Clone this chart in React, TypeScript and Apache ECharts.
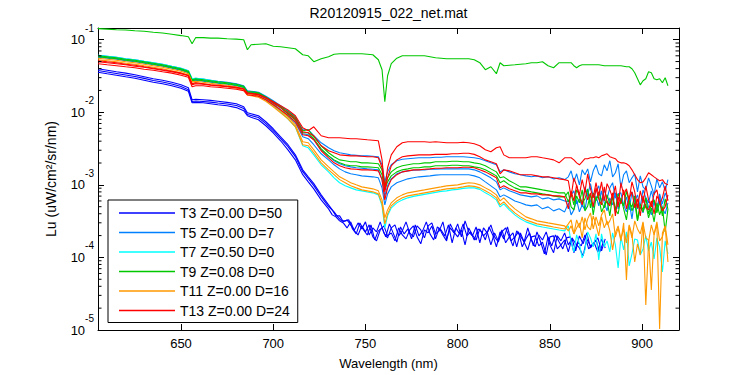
import { useEffect, useRef } from 'react';
import * as echarts from 'echarts';

const FONT = '"Liberation Sans", Arial, Helvetica, sans-serif';

const titleText = 'R20120915_022_net.mat';
const xAxisTitle = 'Wavelength (nm)';
const yAxisTitle = 'Lu (uW/cm\u00B2/sr/nm)';

// wavelength grids (nm)
const smoothWl = [605, 610, 615, 620, 625, 630, 635, 640, 645, 650, 654, 656, 658, 662, 666, 670, 675, 680, 684, 686, 688, 692, 696, 700, 704, 708, 712, 716, 719, 722, 726, 730];
const midWl = [733, 736, 739, 742, 745, 748, 751, 754, 757, 759, 760.5, 762, 764, 767, 770, 773, 776, 779, 782, 785, 788, 791, 794, 797, 800, 803, 806, 809, 812, 815, 818, 821, 823, 825, 828, 831, 834, 837, 840, 843, 846, 849, 852, 855, 858];
const noiseWl = [860, 861.5, 863, 864.5, 866, 867.5, 869, 870.5, 872, 873.5, 875, 876.5, 878, 879.5, 881, 882.5, 884, 885.5, 887, 888.5, 890, 891.5, 893, 894.5, 896, 897.5, 899, 900.5, 902, 903.5, 905, 906.5, 908, 909.5, 911, 912.5, 914];
const t3NoiseWl = [732, 734, 736, 738, 740, 742, 744, 746, 748, 750, 752, 754, 756, 758, 760, 762, 764, 766, 768, 770, 772, 774, 776, 778, 780, 782, 784, 786, 788, 790, 792, 794, 796, 798, 800, 802, 804, 806, 808, 810, 812, 814, 816, 818, 820, 822, 824, 826, 828, 830, 832, 834, 836, 838, 840, 842, 844, 846, 848, 850, 852, 854, 856, 858, 860, 862, 864, 866, 868, 870, 872, 874, 876, 878, 880];
const t3NoiseWlOdd = [733, 735, 737, 739, 741, 743, 745, 747, 749, 751, 753, 755, 757, 759, 761, 763, 765, 767, 769, 771, 773, 775, 777, 779, 781, 783, 785, 787, 789, 791, 793, 795, 797, 799, 801, 803, 805, 807, 809, 811, 813, 815, 817, 819, 821, 823, 825, 827, 829, 831, 833, 835, 837, 839, 841, 843, 845, 847, 849, 851, 853, 855, 857, 859, 861, 863, 865, 867, 869, 871, 873, 875, 877, 879];

const wavelengths = [...smoothWl, ...midWl, ...noiseWl];
const t3Wavelengths = [...smoothWl, ...t3NoiseWl];
const t3WavelengthsOdd = [...smoothWl, ...t3NoiseWlOdd];

// T3 (Lu, uW/cm^2/sr/nm)
const t3Line1 = [
  0.0398, 0.0380, 0.0362, 0.0346, 0.0329, 0.0309, 0.0290, 0.0277, 0.0259, 0.0239, 0.0218, 0.0149, 0.0151, 0.0149, 0.0146, 0.0142, 0.0137, 0.0131, 0.0119, 0.00984, 0.00953, 0.00895, 0.00740, 0.00593, 0.00460, 0.00357, 0.00259, 0.00161, 0.00129, 0.00104, 0.000728, 0.000530,
  0.000452, 0.000374, 0.000374, 0.000309, 0.000329, 0.000281, 0.000239, 0.000299, 0.000247, 0.000309,
  0.000204, 0.000255, 0.000225, 0.000309, 0.000218, 0.000186, 0.000255, 0.000281, 0.000198, 0.000232,
  0.000309, 0.000218, 0.000192, 0.000272, 0.000239, 0.000186, 0.000272, 0.000299, 0.000211, 0.000232,
  0.000309, 0.000180, 0.000255, 0.000218, 0.000290, 0.000192, 0.000319, 0.000225, 0.000198, 0.000263,
  0.000159, 0.000255, 0.000218, 0.000281, 0.000192, 0.000163, 0.000225, 0.000255, 0.000192, 0.000144,
  0.000232, 0.000198, 0.000163, 0.000255, 0.000174, 0.000140, 0.000204, 0.000174, 0.000225, 0.000149,
  0.000116, 0.000198, 0.000169, 0.000218, 0.000149, 0.000180, 0.000123, 0.000198, 0.000154, 0.000218,
  0.000135, 0.000159, 0.000186, 0.000123, 0.000180,
];
const t3Line2 = [
  0.0357, 0.0340, 0.0324, 0.0309, 0.0295, 0.0277, 0.0259, 0.0247, 0.0232, 0.0214, 0.0195, 0.0135, 0.0137, 0.0135, 0.0131, 0.0127, 0.0123, 0.0116, 0.0105, 0.00895, 0.00853, 0.00788, 0.00652, 0.00522, 0.00405, 0.00304, 0.00221, 0.00138, 0.00110, 0.000881, 0.000621, 0.000467,
  0.000386, 0.000362, 0.000319, 0.000299, 0.000255, 0.000309, 0.000232, 0.000204, 0.000272, 0.000225,
  0.000281, 0.000192, 0.000169, 0.000239, 0.000272, 0.000198, 0.000218, 0.000169, 0.000255, 0.000204,
  0.000180, 0.000239, 0.000272, 0.000192, 0.000154, 0.000239, 0.000218, 0.000272, 0.000180, 0.000255,
  0.000204, 0.000169, 0.000290, 0.000225, 0.000192, 0.000239, 0.000149, 0.000255, 0.000204, 0.000174,
  0.000247, 0.000198, 0.000225, 0.000149, 0.000218, 0.000169, 0.000239, 0.000159, 0.000192, 0.000218,
  0.000140, 0.000218, 0.000163, 0.000127, 0.000192, 0.000198, 0.000144, 0.000163, 0.000108, 0.000192,
  0.000198, 0.000131, 0.000149, 0.000174, 0.000119, 0.000186, 0.000154, 0.000135, 0.000105, 0.000180,
  0.000144, 0.000159, 0.000119, 0.000180, 0.000135,
];
const t3Line3 = [
  0.0376, 0.0359, 0.0342, 0.0326, 0.0311, 0.0293, 0.0274, 0.0261, 0.0245, 0.0226, 0.0205, 0.0141, 0.0143, 0.0141, 0.0138, 0.0134, 0.0130, 0.0124, 0.0113, 0.00930, 0.00901, 0.00845, 0.00699, 0.00560, 0.00435, 0.00337, 0.00245, 0.00152, 0.00122, 0.000975, 0.000687, 0.000500,
  0.000424, 0.000362, 0.000319, 0.000319, 0.000329, 0.000247, 0.000211, 0.000299, 0.000239, 0.000204,
  0.000281, 0.000174, 0.000232, 0.000255, 0.000192, 0.000290, 0.000218, 0.000163, 0.000263, 0.000211,
  0.000247, 0.000180, 0.000281, 0.000198, 0.000232, 0.000309, 0.000211, 0.000174, 0.000263, 0.000239,
  0.000198, 0.000281, 0.000159, 0.000255, 0.000211, 0.000290, 0.000198, 0.000225, 0.000174, 0.000247,
  0.000225, 0.000174, 0.000263, 0.000204, 0.000140, 0.000225, 0.000180, 0.000263, 0.000169, 0.000192,
  0.000225, 0.000140, 0.000180, 0.000218, 0.000144, 0.000225, 0.000163, 0.000112, 0.000192, 0.000144,
  0.000204, 0.000163, 0.000131, 0.000186, 0.000192, 0.000116, 0.000163, 0.000144, 0.000204, 0.000131,
  0.000149, 0.000174, 0.000119, 0.000163,
];

// all other casts on `wavelengths`
const t5Line1 = [
  0.0611, 0.0592, 0.0574, 0.0547, 0.0530, 0.0505, 0.0482, 0.0460, 0.0431, 0.0405, 0.0374, 0.0290, 0.0295, 0.0286, 0.0277, 0.0268, 0.0259, 0.0247, 0.0232, 0.0198, 0.0195, 0.0189, 0.0166, 0.0144, 0.0123, 0.0105, 0.00867, 0.00574, 0.00574, 0.00475, 0.00380, 0.00324,
  0.00295, 0.00277, 0.00268, 0.00259, 0.00255, 0.00251, 0.00251, 0.00248, 0.00244, 0.00189, 0.00110, 0.00151, 0.00189, 0.00215, 0.00225, 0.00229, 0.00233, 0.00236, 0.00236, 0.00236, 0.00240, 0.00240, 0.00244, 0.00244, 0.00244, 0.00244, 0.00240, 0.00236, 0.00229, 0.00215, 0.00201, 0.00189, 0.00151, 0.00161, 0.00151, 0.00142, 0.00138, 0.00133, 0.00129, 0.00133, 0.00125, 0.00129, 0.00121, 0.00125, 0.00118,
  0.00129, 0.00156, 0.00110, 0.00142, 0.00100, 0.00161, 0.00138, 0.00166, 0.00110, 0.00156, 0.00189, 0.00142, 0.00133, 0.00189, 0.00156, 0.00215, 0.00129, 0.00147, 0.00195, 0.000909, 0.00138, 0.00156, 0.00107, 0.00125, 0.00142, 0.000801, 0.00133, 0.000938, 0.000853, 0.00125, 0.000969, 0.000728, 0.00121, 0.000909, 0.00110, 0.000827, 0.00118,
];
const t5Line2 = [
  0.0592, 0.0574, 0.0556, 0.0530, 0.0513, 0.0490, 0.0467, 0.0445, 0.0418, 0.0392, 0.0362, 0.0281, 0.0286, 0.0277, 0.0268, 0.0259, 0.0251, 0.0239, 0.0225, 0.0192, 0.0189, 0.0183, 0.0161, 0.0135, 0.0116, 0.00953, 0.00788, 0.00506, 0.00490, 0.00418, 0.00304, 0.00251,
  0.00215, 0.00195, 0.00183, 0.00177, 0.00172, 0.00169, 0.00166, 0.00164, 0.00161, 0.00118, 0.000705, 0.000969, 0.00121, 0.00142, 0.00151, 0.00156, 0.00159, 0.00161, 0.00161, 0.00164, 0.00164, 0.00166, 0.00166, 0.00166, 0.00166, 0.00166, 0.00166, 0.00161, 0.00151, 0.00138, 0.00125, 0.00110, 0.000853, 0.000909, 0.000827, 0.000776, 0.000728, 0.000705, 0.000683, 0.000705, 0.000641, 0.000662, 0.000621, 0.000641, 0.000601,
  0.000583, 0.000728, 0.000827, 0.000547, 0.000641, 0.000497, 0.000938, 0.000728, 0.00104, 0.000683, 0.000801, 0.000969, 0.000583, 0.000853, 0.000641, 0.000909, 0.00107, 0.000662, 0.000751, 0.000776, 0.000513, 0.000683, 0.000452, 0.000801, 0.000601, 0.000728, 0.000497, 0.000853, 0.000662, 0.000565, 0.000827, 0.000583, 0.000438, 0.000751, 0.000547, 0.000776, 0.000621,
];
const t5Line3 = [
  0.0574, 0.0556, 0.0538, 0.0513, 0.0497, 0.0474, 0.0452, 0.0431, 0.0405, 0.0380, 0.0351, 0.0272, 0.0277, 0.0268, 0.0259, 0.0251, 0.0243, 0.0232, 0.0218, 0.0186, 0.0183, 0.0174, 0.0154, 0.0131, 0.0108, 0.00895, 0.00717, 0.00460, 0.00432, 0.00357, 0.00268, 0.00221,
  0.00189, 0.00166, 0.00151, 0.00142, 0.00138, 0.00133, 0.00131, 0.00129, 0.00125, 0.000909, 0.000530, 0.000751, 0.000938, 0.00107, 0.00114, 0.00121, 0.00125, 0.00129, 0.00131, 0.00133, 0.00136, 0.00138, 0.00138, 0.00138, 0.00138, 0.00138, 0.00138, 0.00133, 0.00125, 0.00110, 0.000969, 0.000853, 0.000683, 0.000728, 0.000662, 0.000601, 0.000565, 0.000530, 0.000513, 0.000530, 0.000467, 0.000497, 0.000438, 0.000467, 0.000424,
  0.000565, 0.000386, 0.000452, 0.000621, 0.000424, 0.000530, 0.000452, 0.000751, 0.000601, 0.000482, 0.000705, 0.000513, 0.000827, 0.000565, 0.000438, 0.000662, 0.000530, 0.000776, 0.000467, 0.000621, 0.000530, 0.000424, 0.000583, 0.000340, 0.000641, 0.000467, 0.000547, 0.000411, 0.000662, 0.000497, 0.000386, 0.000601, 0.000438, 0.000683, 0.000482, 0.000398, 0.000565,
];
const t7Line = [
  0.0611, 0.0592, 0.0574, 0.0547, 0.0530, 0.0505, 0.0482, 0.0460, 0.0431, 0.0405, 0.0374, 0.0290, 0.0295, 0.0286, 0.0277, 0.0263, 0.0251, 0.0239, 0.0221, 0.0186, 0.0180, 0.0169, 0.0146, 0.0123, 0.0102, 0.00814, 0.00631, 0.00346, 0.00324, 0.00259, 0.00189, 0.00151,
  0.00125, 0.00107, 0.000969, 0.000909, 0.000853, 0.000827, 0.000801, 0.000776, 0.000728, 0.000513, 0.000255, 0.000374, 0.000482, 0.000565, 0.000621, 0.000662, 0.000694, 0.000716, 0.000740, 0.000764, 0.000788, 0.000814, 0.000827, 0.000853, 0.000867, 0.000895, 0.000909, 0.000909, 0.000867, 0.000776, 0.000705, 0.000621, 0.000497, 0.000547, 0.000452, 0.000386, 0.000340, 0.000309, 0.000290, 0.000272, 0.000263, 0.000255, 0.000247, 0.000239, 0.000232,
  0.000272, 0.000163, 0.000119, 0.000204, 0.000154, 0.0000984, 0.000127, 0.000225, 0.000186, 0.000140, 0.000211, 0.0000924, 0.000211, 0.000140, 0.000169, 0.000119, 0.000218, 0.000149, 0.0000716, 0.000192, 0.000127, 0.000225, 0.0000763, 0.000112, 0.000180, 0.000174, 0.000108, 0.000131, 0.000198, 0.000123, 0.000163, 0.0000954, 0.000186, 0.000140, 0.0000631, 0.000169, 0.000112,
];
const t9Top = [
  0.142, 0.140, 0.137, 0.136, 0.133, 0.131, 0.127, 0.124, 0.119, 0.114, 0.110, 0.0881, 0.107, 0.107, 0.105, 0.105, 0.103, 0.102, 0.100, 0.0728, 0.0853, 0.0867, 0.0881, 0.0814, 0.0801, 0.0776, 0.0751, 0.0621, 0.0601, 0.0497, 0.0547, 0.0583,
  0.0631, 0.0641, 0.0641, 0.0641, 0.0641, 0.0641, 0.0631, 0.0621, 0.0530, 0.0386, 0.0140, 0.0319, 0.0467, 0.0556, 0.0601, 0.0601, 0.0601, 0.0601, 0.0601, 0.0583, 0.0565, 0.0556, 0.0547, 0.0547, 0.0547, 0.0547, 0.0547, 0.0530, 0.0482, 0.0386, 0.0424, 0.0340, 0.0482, 0.0438, 0.0445, 0.0452, 0.0460, 0.0467, 0.0482, 0.0482, 0.0497, 0.0438, 0.0411, 0.0482, 0.0482,
  0.0482, 0.0482, 0.0438, 0.0411, 0.0438, 0.0452, 0.0452, 0.0452, 0.0452, 0.0452, 0.0452, 0.0452, 0.0445, 0.0438, 0.0438, 0.0438, 0.0438, 0.0438, 0.0438, 0.0438, 0.0431, 0.0424, 0.0424, 0.0398, 0.0351, 0.0290, 0.0239, 0.0272, 0.0290, 0.0362, 0.0351, 0.0290, 0.0281, 0.0290, 0.0255, 0.0299, 0.0232,
];
const t9Line1 = [
  0.0601, 0.0583, 0.0565, 0.0538, 0.0521, 0.0497, 0.0474, 0.0452, 0.0424, 0.0398, 0.0368, 0.0281, 0.0290, 0.0281, 0.0272, 0.0263, 0.0255, 0.0243, 0.0228, 0.0192, 0.0192, 0.0186, 0.0163, 0.0140, 0.0119, 0.0102, 0.00840, 0.00556, 0.00574, 0.00460, 0.00346, 0.00277,
  0.00244, 0.00221, 0.00215, 0.00208, 0.00208, 0.00201, 0.00201, 0.00198, 0.00195, 0.00161, 0.00100, 0.00125, 0.00151, 0.00172, 0.00183, 0.00189, 0.00195, 0.00195, 0.00201, 0.00201, 0.00208, 0.00208, 0.00208, 0.00211, 0.00211, 0.00208, 0.00208, 0.00201, 0.00195, 0.00183, 0.00166, 0.00151, 0.00125, 0.00129, 0.00114, 0.00104, 0.000938, 0.000938, 0.000909, 0.000881, 0.000853, 0.000827, 0.000801, 0.000776, 0.000776,
  0.000583, 0.000751, 0.000530, 0.000853, 0.000728, 0.000565, 0.000641, 0.000881, 0.000482, 0.000776, 0.000601, 0.000801, 0.000583, 0.000482, 0.000728, 0.000547, 0.000662, 0.000452, 0.000751, 0.000601, 0.000513, 0.000827, 0.000565, 0.000497, 0.000705, 0.000329, 0.000547, 0.000452, 0.000662, 0.000398, 0.000530, 0.000621, 0.000411, 0.000583, 0.000374, 0.000641, 0.000467,
];
const t9Line2 = [
  0.0583, 0.0565, 0.0547, 0.0521, 0.0505, 0.0482, 0.0460, 0.0438, 0.0411, 0.0386, 0.0357, 0.0272, 0.0281, 0.0272, 0.0263, 0.0255, 0.0247, 0.0236, 0.0221, 0.0186, 0.0186, 0.0180, 0.0159, 0.0135, 0.0116, 0.00953, 0.00788, 0.00522, 0.00522, 0.00432, 0.00314, 0.00251,
  0.00221, 0.00201, 0.00189, 0.00183, 0.00183, 0.00177, 0.00177, 0.00175, 0.00172, 0.00138, 0.000853, 0.00110, 0.00133, 0.00151, 0.00161, 0.00166, 0.00172, 0.00172, 0.00177, 0.00177, 0.00183, 0.00183, 0.00183, 0.00186, 0.00186, 0.00183, 0.00183, 0.00177, 0.00172, 0.00161, 0.00147, 0.00133, 0.00107, 0.00114, 0.00100, 0.000909, 0.000853, 0.000827, 0.000801, 0.000776, 0.000751, 0.000728, 0.000705, 0.000683, 0.000683,
  0.000801, 0.000497, 0.000452, 0.000705, 0.000565, 0.000853, 0.000438, 0.000513, 0.000751, 0.000386, 0.000662, 0.000683, 0.000424, 0.000513, 0.000601, 0.000374, 0.000705, 0.000452, 0.000398, 0.000662, 0.000467, 0.000329, 0.000621, 0.000438, 0.000565, 0.000319, 0.000497, 0.000424, 0.000547, 0.000351, 0.000482, 0.000309, 0.000565, 0.000386, 0.000497, 0.000225, 0.000467,
];
const t11Line1 = [
  0.0556, 0.0538, 0.0521, 0.0497, 0.0482, 0.0460, 0.0438, 0.0418, 0.0392, 0.0368, 0.0340, 0.0263, 0.0268, 0.0259, 0.0251, 0.0243, 0.0236, 0.0225, 0.0211, 0.0180, 0.0177, 0.0169, 0.0149, 0.0127, 0.0105, 0.00867, 0.00673, 0.00392, 0.00380, 0.00304, 0.00221, 0.00177,
  0.00151, 0.00129, 0.00118, 0.00107, 0.00100, 0.000938, 0.000909, 0.000881, 0.000827, 0.000621, 0.000351, 0.000452, 0.000565, 0.000662, 0.000728, 0.000776, 0.000801, 0.000827, 0.000853, 0.000881, 0.000909, 0.000938, 0.000969, 0.000984, 0.00100, 0.00104, 0.00107, 0.00105, 0.00100, 0.000909, 0.000827, 0.000728, 0.000601, 0.000662, 0.000547, 0.000467, 0.000411, 0.000362, 0.000340, 0.000319, 0.000309, 0.000299, 0.000290, 0.000281, 0.000272,
  0.000232, 0.000272, 0.000211, 0.000329, 0.000255, 0.000362, 0.000239, 0.000340, 0.000411, 0.000247, 0.000362, 0.000272, 0.000386, 0.000452, 0.000281, 0.000319, 0.000398, 0.000192, 0.000255, 0.000169, 0.000299, 0.0000490, 0.000272, 0.000186, 0.000319, 0.000247, 0.000211, 0.000309, 0.0000221, 0.000163, 0.000281, 0.000204, 0.000290, 0.0000103, 0.000218, 0.000272, 0.0000867,
];
const t11Line2 = [
  0.0530, 0.0513, 0.0497, 0.0474, 0.0460, 0.0438, 0.0418, 0.0398, 0.0374, 0.0351, 0.0324, 0.0251, 0.0255, 0.0247, 0.0239, 0.0232, 0.0225, 0.0214, 0.0201, 0.0172, 0.0169, 0.0161, 0.0142, 0.0119, 0.00984, 0.00814, 0.00631, 0.00357, 0.00346, 0.00277, 0.00201, 0.00161,
  0.00138, 0.00118, 0.00107, 0.000969, 0.000909, 0.000853, 0.000827, 0.000801, 0.000751, 0.000547, 0.000290, 0.000398, 0.000513, 0.000601, 0.000662, 0.000705, 0.000728, 0.000751, 0.000776, 0.000801, 0.000827, 0.000853, 0.000881, 0.000895, 0.000909, 0.000938, 0.000969, 0.000953, 0.000909, 0.000827, 0.000751, 0.000662, 0.000530, 0.000583, 0.000482, 0.000411, 0.000362, 0.000329, 0.000309, 0.000290, 0.000281, 0.000272, 0.000263, 0.000255, 0.000247,
  0.000290, 0.000329, 0.000211, 0.000255, 0.000299, 0.000186, 0.000351, 0.000263, 0.000239, 0.000374, 0.000281, 0.000198, 0.000362, 0.000255, 0.000319, 0.000232, 0.000127, 0.000218, 0.000272, 0.000180, 0.000247, 0.000159, 0.000281, 0.000204, 0.0000867, 0.000154, 0.000108, 0.000299, 0.000186, 0.000174, 0.0000357, 0.000211, 0.000309, 0.000169, 0.000192, 0.000272, 0.000149,
];
const t13Line1 = [
  0.0497, 0.0482, 0.0467, 0.0452, 0.0431, 0.0418, 0.0398, 0.0380, 0.0362, 0.0340, 0.0319, 0.0239, 0.0247, 0.0243, 0.0236, 0.0232, 0.0225, 0.0218, 0.0208, 0.0180, 0.0180, 0.0174, 0.0159, 0.0140, 0.0123, 0.0108, 0.00895, 0.00612, 0.00556, 0.00631, 0.00475, 0.00446,
  0.00446, 0.00446, 0.00439, 0.00432, 0.00432, 0.00425, 0.00418, 0.00412, 0.00405, 0.00221, 0.000853, 0.00172, 0.00259, 0.00335, 0.00380, 0.00392, 0.00392, 0.00392, 0.00392, 0.00386, 0.00392, 0.00386, 0.00380, 0.00380, 0.00380, 0.00386, 0.00380, 0.00368, 0.00346, 0.00304, 0.00286, 0.00324, 0.00335, 0.00259, 0.00236, 0.00236, 0.00236, 0.00236, 0.00244, 0.00244, 0.00236, 0.00229, 0.00221, 0.00201, 0.00236,
  0.00236, 0.00236, 0.00221, 0.00201, 0.00189, 0.00208, 0.00229, 0.00229, 0.00236, 0.00236, 0.00244, 0.00236, 0.00251, 0.00259, 0.00268, 0.00244, 0.00236, 0.00229, 0.00208, 0.00201, 0.00201, 0.00195, 0.00183, 0.00161, 0.00138, 0.00118, 0.00107, 0.00110, 0.00125, 0.00147, 0.00138, 0.00129, 0.00121, 0.00114, 0.00118, 0.00104, 0.00100,
];
const t13Line2 = [
  0.0513, 0.0497, 0.0482, 0.0460, 0.0445, 0.0424, 0.0405, 0.0386, 0.0368, 0.0346, 0.0324, 0.0247, 0.0255, 0.0247, 0.0239, 0.0236, 0.0228, 0.0221, 0.0211, 0.0186, 0.0183, 0.0177, 0.0159, 0.0135, 0.0116, 0.00984, 0.00814, 0.00539, 0.00522, 0.00475, 0.00346, 0.00295,
  0.00277, 0.00259, 0.00255, 0.00251, 0.00251, 0.00248, 0.00244, 0.00244, 0.00236, 0.00172, 0.000801, 0.00125, 0.00183, 0.00221, 0.00244, 0.00251, 0.00255, 0.00259, 0.00259, 0.00259, 0.00263, 0.00263, 0.00263, 0.00268, 0.00268, 0.00272, 0.00272, 0.00263, 0.00244, 0.00221, 0.00208, 0.00195, 0.00142, 0.00161, 0.00156, 0.00147, 0.00138, 0.00138, 0.00138, 0.00133, 0.00129, 0.00129, 0.00125, 0.00121, 0.00118,
  0.00114, 0.000683, 0.00125, 0.000969, 0.000728, 0.00118, 0.000801, 0.00142, 0.000881, 0.000662, 0.00107, 0.000705, 0.00110, 0.000601, 0.00104, 0.000853, 0.000662, 0.000969, 0.000497, 0.00107, 0.000728, 0.000881, 0.000621, 0.00110, 0.000801, 0.000482, 0.000827, 0.000565, 0.000969, 0.000621, 0.000497, 0.000751, 0.000853, 0.000547, 0.000662, 0.000969, 0.000601,
];
const t13Line3 = [
  0.0467, 0.0452, 0.0438, 0.0424, 0.0411, 0.0392, 0.0380, 0.0362, 0.0346, 0.0324, 0.0304, 0.0225, 0.0232, 0.0232, 0.0225, 0.0221, 0.0214, 0.0208, 0.0198, 0.0174, 0.0172, 0.0166, 0.0149, 0.0127, 0.0108, 0.00909, 0.00740, 0.00490, 0.00475, 0.00418, 0.00295, 0.00236,
  0.00201, 0.00183, 0.00172, 0.00166, 0.00164, 0.00161, 0.00161, 0.00159, 0.00156, 0.00118, 0.000621, 0.000909, 0.00118, 0.00138, 0.00151, 0.00156, 0.00161, 0.00161, 0.00164, 0.00166, 0.00169, 0.00169, 0.00172, 0.00172, 0.00172, 0.00175, 0.00175, 0.00172, 0.00161, 0.00151, 0.00138, 0.00125, 0.000909, 0.000969, 0.000881, 0.000827, 0.000776, 0.000776, 0.000751, 0.000751, 0.000728, 0.000728, 0.000705, 0.000705, 0.000683,
  0.000467, 0.000827, 0.000601, 0.00100, 0.000683, 0.000530, 0.000881, 0.000621, 0.000776, 0.000497, 0.000909, 0.000641, 0.000530, 0.000938, 0.000583, 0.000513, 0.000776, 0.000374, 0.000683, 0.000547, 0.000853, 0.000467, 0.000662, 0.000801, 0.000482, 0.000641, 0.000374, 0.000705, 0.000482, 0.000452, 0.000601, 0.000398, 0.000705, 0.000583, 0.000438, 0.000497, 0.000728,
];

const legendNames = [
  'T3 Z=0.00 D=50',
  'T5 Z=0.00 D=7',
  'T7 Z=0.50 D=0',
  'T9 Z=0.08 D=0',
  'T11 Z=0.00 D=16',
  'T13 Z=0.00 D=24',
];
const legendColors = ['#0000FF', '#0080FF', '#00FFFF', '#00C800', '#FF9900', '#FF0000'];

const castLines: { cast: number; wl: number[]; values: number[] }[] = [
  { cast: 0, wl: t3Wavelengths, values: t3Line1 },
  { cast: 0, wl: t3Wavelengths, values: t3Line2 },
  { cast: 0, wl: t3WavelengthsOdd, values: t3Line3 },
  { cast: 1, wl: wavelengths, values: t5Line1 },
  { cast: 1, wl: wavelengths, values: t5Line2 },
  { cast: 1, wl: wavelengths, values: t5Line3 },
  { cast: 2, wl: wavelengths, values: t7Line },
  { cast: 3, wl: wavelengths, values: t9Top },
  { cast: 3, wl: wavelengths, values: t9Line1 },
  { cast: 3, wl: wavelengths, values: t9Line2 },
  { cast: 4, wl: wavelengths, values: t11Line1 },
  { cast: 4, wl: wavelengths, values: t11Line2 },
  { cast: 5, wl: wavelengths, values: t13Line1 },
  { cast: 5, wl: wavelengths, values: t13Line2 },
  { cast: 5, wl: wavelengths, values: t13Line3 },
];

const minorTickValues = [
  2e-5, 3e-5, 4e-5, 5e-5, 6e-5, 7e-5, 8e-5, 9e-5,
  2e-4, 3e-4, 4e-4, 5e-4, 6e-4, 7e-4, 8e-4, 9e-4,
  2e-3, 3e-3, 4e-3, 5e-3, 6e-3, 7e-3, 8e-3, 9e-3,
  2e-2, 3e-2, 4e-2, 5e-2, 6e-2, 7e-2, 8e-2, 9e-2,
];

const X_MIN = 605;
const X_MAX = 920;
const Y_MIN = 1e-5;
const Y_MAX = 0.145;

function buildOption(): any {
  const lineSeries = castLines.map((l) => ({
    type: 'line',
    name: legendNames[l.cast],
    data: l.values.map((v, i) => [l.wl[i], v]),
    showSymbol: false,
    symbol: 'none',
    silent: true,
    lineStyle: { color: legendColors[l.cast], width: 1.1 },
    itemStyle: { color: legendColors[l.cast] },
    emphasis: { disabled: true },
    z: 2,
  }));

  const minorSeries = {
    type: 'custom',
    silent: true,
    clip: false,
    z: 5,
    data: minorTickValues.map((v) => [X_MIN, v]),
    renderItem: (params: any, api: any) => {
      const pt = api.coord([api.value(0), api.value(1)]);
      const cs = params.coordSys;
      return {
        type: 'group',
        children: [
          { type: 'line', shape: { x1: cs.x, y1: pt[1], x2: cs.x + 3.5, y2: pt[1] }, style: { stroke: '#000', lineWidth: 1 } },
          { type: 'line', shape: { x1: cs.x + cs.width - 3.5, y1: pt[1], x2: cs.x + cs.width, y2: pt[1] }, style: { stroke: '#000', lineWidth: 1 } },
        ],
      };
    },
  };

  const axisLine = { show: true, onZero: false, lineStyle: { color: '#000', width: 1 } };
  const axisTick = { show: true, inside: true, length: 6, lineStyle: { color: '#000', width: 1 } };

  const xLabel = (v: number) => (Math.abs(v % 50) < 1e-6 ? String(v) : '');
  const yLabel = (v: number) => {
    const e = Math.log10(v);
    const r = Math.round(e);
    if (Math.abs(e - r) > 1e-6) return '';
    return `{b|10}{e|${r}}`;
  };

  return {
    animation: false,
    backgroundColor: '#fff',
    textStyle: { fontFamily: FONT },
    grid: { left: 98, right: 71, top: 28, bottom: 44.5, containLabel: false },
    graphic: [
      {
        type: 'text',
        x: 388.5,
        y: 13,
        silent: true,
        style: {
          text: titleText,
          fill: '#000',
          fontSize: 14,
          fontFamily: FONT,
          align: 'center',
          verticalAlign: 'middle',
          textAlign: 'center',
          textVerticalAlign: 'middle',
        },
      },
    ],
    legend: {
      data: legendNames.map((n, i) => ({ name: n, itemStyle: { color: legendColors[i] } })),
      orient: 'vertical',
      left: 108,
      top: 200,
      icon: 'rect',
      itemWidth: 56,
      itemHeight: 1.5,
      itemGap: 3.5,
      selectedMode: false,
      padding: [5, 8, 4, 11],
      backgroundColor: '#fff',
      borderColor: '#000',
      borderWidth: 1,
      borderRadius: 0,
      textStyle: { fontSize: 14, color: '#000', fontFamily: FONT, lineHeight: 16 },
      z: 10,
    },
    xAxis: [
      {
        type: 'value',
        min: X_MIN,
        max: X_MAX,
        position: 'bottom',
        axisLine,
        axisTick,
        splitLine: { show: false },
        axisLabel: { formatter: xLabel, margin: 7, color: '#000', fontSize: 13, fontFamily: FONT },
        name: xAxisTitle,
        nameLocation: 'middle',
        nameGap: 27,
        nameTextStyle: { fontSize: 13, color: '#000', fontFamily: FONT },
      },
      {
        type: 'value',
        min: X_MIN,
        max: X_MAX,
        position: 'top',
        axisLine,
        axisTick,
        splitLine: { show: false },
        axisLabel: { show: false },
      },
    ],
    yAxis: [
      {
        type: 'log',
        logBase: 10,
        min: Y_MIN,
        max: Y_MAX,
        position: 'left',
        axisLine,
        axisTick,
        splitLine: { show: false },
        axisLabel: {
          formatter: yLabel,
          margin: 4,
          color: '#000',
          fontFamily: FONT,
          rich: {
            b: { fontSize: 13, lineHeight: 33, verticalAlign: 'middle', color: '#000', fontFamily: FONT },
            e: { fontSize: 10, lineHeight: 12, verticalAlign: 'top', color: '#000', fontFamily: FONT },
          },
        },
        name: yAxisTitle,
        nameLocation: 'middle',
        nameGap: 40,
        nameRotate: 90,
        nameTextStyle: { fontSize: 14, color: '#000', fontFamily: FONT },
      },
      {
        type: 'log',
        logBase: 10,
        min: Y_MIN,
        max: Y_MAX,
        position: 'right',
        axisLine,
        axisTick,
        splitLine: { show: false },
        axisLabel: { show: false },
      },
    ],
    series: [...lineSeries, minorSeries],
  };
}

export default function App() {
  const ref = useRef<HTMLDivElement>(null);
  useEffect(() => {
    if (!ref.current) return;
    const chart = echarts.init(ref.current, null, { renderer: 'svg' });
    chart.setOption(buildOption());
    return () => chart.dispose();
  }, []);
  return (
    <div
      ref={ref}
      style={{ position: 'absolute', left: 0, top: 0, width: 750, height: 375, background: '#fff' }}
    />
  );
}
